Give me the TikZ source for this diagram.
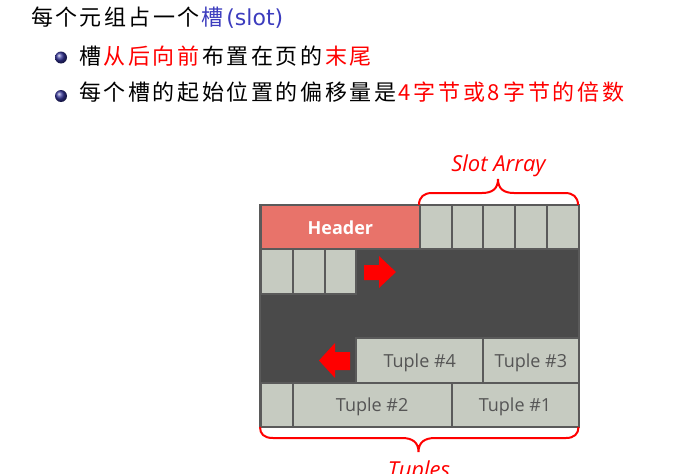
\documentclass[tikz,border=0pt]{standalone}
\usepackage{fontspec}
\setmainfont{Open Sans}
\newfontfamily\cjk{Noto Sans CJK SC}
\newfontfamily\latinf{DejaVu Sans}
\definecolor{darkbg}{HTML}{4A4A4A}
\definecolor{cellc}{HTML}{C6CBC1}
\definecolor{cellb}{HTML}{5A5A5A}
\definecolor{hdr}{HTML}{E8736A}
\definecolor{txtg}{HTML}{555555}
\definecolor{blu}{RGB}{60,60,190}
\definecolor{ballc}{RGB}{50,50,150}
\newlength\cpitch
\setlength\cpitch{24.6pt}
\newcommand\spr[1]{\sprA#1\relax}
\def\sprA#1{\ifx#1\relax\else\makebox[\cpitch][l]{#1}\expandafter\sprA\fi}
\newcommand\dg[2]{\makebox[#1][l]{#2}}
\tikzset{
  cell/.style={draw=cellb, line width=2pt, fill=cellc, inner sep=0pt, outer sep=0pt,
    anchor=north west, minimum height=44.4pt, text depth=0pt,
    font=\fontsize{18}{20}\selectfont, text=txtg},
  hdrcell/.style={cell, fill=hdr, text=white, font=\bfseries\fontsize{18}{20}\selectfont},
  line/.style={anchor=base west, inner sep=0pt, font=\cjk\fontsize{22}{25}\selectfont},
  bracep/.style={draw=red, line width=2pt},
  bracelbl/.style={anchor=base, inner sep=0pt, text=red, font=\itshape\fontsize{22}{24}\selectfont},
  bigarrow/.style={fill=red, draw=none},
  bul/.style={ball color=ballc}
}
\begin{document}
\begin{tikzpicture}[x=1pt,y=-1pt]
\useasboundingbox (0,0) rectangle (678,474);
\fill[white] (0,0) rectangle (678,474);
% text lines
\node[line] (l1) at (31,25.5) {\setlength\cpitch{24.4pt}\spr{每个元组占一个}\textcolor{blu}{\spr{槽}\latinf(slot)}};
\shade[bul] (61,57.5) circle[radius=6pt];
\node[line] (l2) at (79,64) {\spr{槽}\textcolor{red}{\spr{从后向前}}\spr{布置在页的}\textcolor{red}{\spr{末尾}}};
\shade[bul] (61,96) circle[radius=6pt];
\node[line] (l3) at (79,100.5) {\spr{每个槽的起始位置的偏移量是}\textcolor{red}{\dg{15pt}{4}\spr{字节或}\dg{16pt}{8}\spr{字节的倍数}}};
% page block
\node[draw=cellb, line width=2pt, fill=darkbg, inner sep=0pt, outer sep=0pt, anchor=north west,
  minimum width=318.5pt, minimum height=222pt] (page) at (260,205) {};
% top row
\node[hdrcell, minimum width=158.75pt] (hdr) at (261,205) {Header};
\node[cell, minimum width=31.75pt] (s1) at (419.75,205) {};
\node[cell, minimum width=31.75pt] (s2) at (451.5,205) {};
\node[cell, minimum width=31.75pt] (s3) at (483.25,205) {};
\node[cell, minimum width=31.75pt] (s4) at (515,205) {};
\node[cell, minimum width=31.75pt] (s5) at (546.75,205) {};
% second row
\node[cell, minimum width=31.75pt] (n1) at (261,249.4) {};
\node[cell, minimum width=31.75pt] (n2) at (292.75,249.4) {};
\node[cell, minimum width=31.75pt] (n3) at (324.5,249.4) {};
% tuples
\node[cell, minimum width=127pt] (t4) at (356.25,338.2) {Tuple \#4};
\node[cell, minimum width=95.25pt] (t3) at (483.25,338.2) {Tuple \#3};
\node[cell, minimum width=31.75pt] (f1) at (261,382.6) {};
\node[cell, minimum width=158.75pt] (t2) at (292.75,382.6) {Tuple \#2};
\node[cell, minimum width=127pt] (t1) at (451.5,382.6) {Tuple \#1};
% arrows
\fill[bigarrow] (364,265) -- (379,265) -- (379,256) -- (396,272) -- (379,288) -- (379,280) -- (364,280) -- cycle;
\fill[bigarrow] (350,352) -- (335,352) -- (335,343) -- (319,360.5) -- (335,378) -- (335,370) -- (350,370) -- cycle;
% braces
\coordinate (ta) at (419,205);
\coordinate (tb) at (578,205);
\draw[bracep] (ta) .. controls (419,197) and (424,193) .. (432,193) -- (482,193)
  .. controls (492,193) and (498,189) .. (498,179)
  .. controls (498,189) and (504,193) .. (514,193) -- (565,193)
  .. controls (573,193) and (578,197) .. (tb);
\node[bracelbl] (sa) at (498.5,171) {Slot Array};
\coordinate (ba) at (260,427);
\coordinate (bb) at (578.5,427);
\draw[bracep] (ba) .. controls (260,434) and (264,438) .. (273,438) -- (402,438)
  .. controls (412,438) and (418.5,442) .. (418.5,452)
  .. controls (418.5,442) and (425,438) .. (435,438) -- (566,438)
  .. controls (574,438) and (578.5,434) .. (bb);
\node[bracelbl] (tl) at (419,477.7) {Tuples};
\end{tikzpicture}
\end{document}
